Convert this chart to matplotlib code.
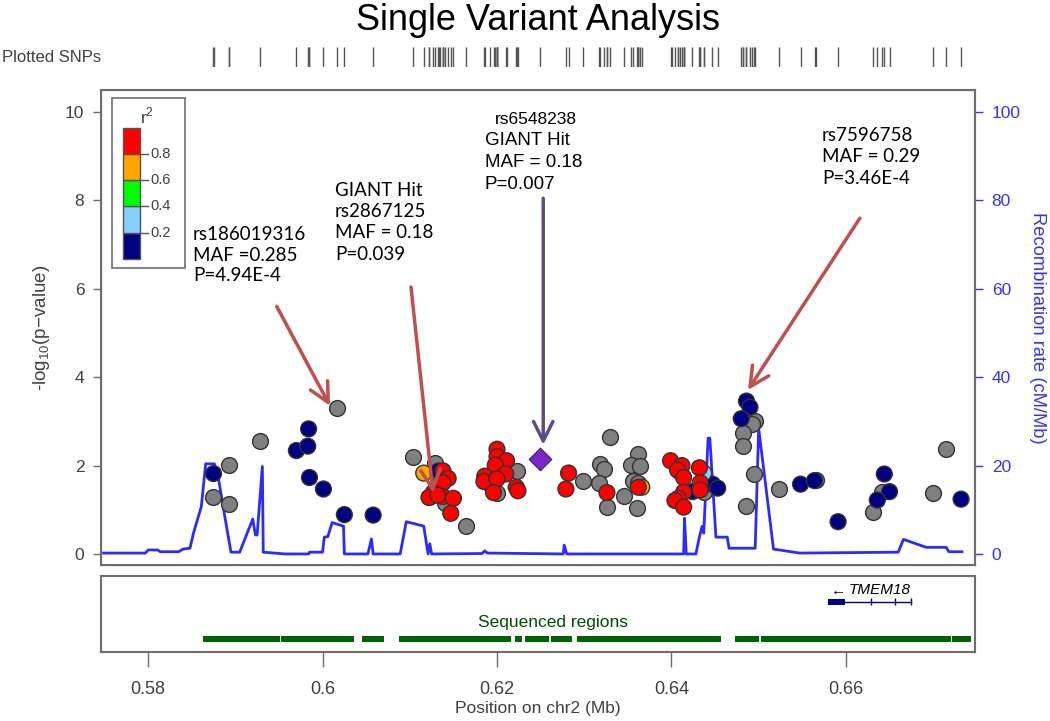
import numpy as np
import matplotlib
matplotlib.use("Agg")
from matplotlib import pyplot as plt
from matplotlib.patches import Rectangle

plt.rcParams['font.family'] = ['Liberation Sans', 'DejaVu Sans']
plt.rcParams['mathtext.fontset'] = 'custom'
plt.rcParams['mathtext.rm'] = 'Liberation Sans'

# Data: SNP position (Mb), -log10(p), r2 with lead SNP
gray_pos = [0.5874, 0.5893, 0.5893, 0.5928, 0.6017, 0.6104, 0.6129, 0.6122, 0.6140, 0.6164,
            0.6223, 0.6200, 0.6299, 0.6329, 0.6318, 0.6323, 0.6317, 0.6326, 0.6346, 0.6362,
            0.6354, 0.6364, 0.6356, 0.6362, 0.6361, 0.6410, 0.6437, 0.6496, 0.6492, 0.6482,
            0.6482, 0.6495, 0.6486, 0.6523, 0.6566, 0.6641, 0.6631, 0.6715, 0.6700]
gray_logp = [1.29, 2.02, 1.14, 2.55, 3.30, 2.19, 2.05, 1.30, 1.15, 0.63,
             1.88, 1.39, 1.64, 2.65, 2.04, 1.92, 1.61, 1.07, 1.31, 2.26,
             2.01, 1.98, 1.66, 1.60, 1.05, 1.85, 1.40, 3.02, 2.94, 2.74,
             2.45, 1.81, 1.09, 1.46, 1.68, 1.41, 0.94, 2.37, 1.37]

ld_pos = [0.5875, 0.5984, 0.5970, 0.5983, 0.5985, 0.6001, 0.6025, 0.6058, 0.6133, 0.6424,
          0.6447, 0.6453, 0.6486, 0.6490, 0.6480, 0.6548, 0.6564, 0.6591, 0.6644, 0.6650,
          0.6636, 0.6732,
          0.6437,
          0.6116, 0.6192, 0.6135, 0.6366,
          0.6138, 0.6144, 0.6138, 0.6127, 0.6122, 0.6138, 0.6150, 0.6147, 0.6132,
          0.6200, 0.6200, 0.6211, 0.6198, 0.6210, 0.6186, 0.6185, 0.6200, 0.6196, 0.6222, 0.6224,
          0.6282, 0.6279, 0.6326, 0.6362,
          0.6399, 0.6412, 0.6407, 0.6414, 0.6432, 0.6433, 0.6433, 0.6414, 0.6408, 0.6404,
          0.6414, 0.6401]
ld_logp = [1.82, 2.83, 2.34, 2.44, 1.73, 1.47, 0.89, 0.88, 1.88, 1.41,
           1.58, 1.49, 3.46, 3.32, 3.06, 1.58, 1.66, 0.73, 1.81, 1.41,
           1.22, 1.24,
           1.83,
           1.83, 1.58, 1.60, 1.51,
           1.88, 1.71, 1.61, 1.39, 1.28, 1.30, 1.26, 0.92, 1.33,
           2.37, 2.20, 2.11, 2.01, 1.81, 1.76, 1.64, 1.70, 1.39, 1.51, 1.43,
           1.83, 1.47, 1.39, 1.51,
           2.11, 2.00, 1.90, 1.73, 1.95, 1.61, 1.45, 1.40, 1.26, 1.21,
           1.06, 0.90]
ld_r2 = [0.1] * 22 + [0.3] + [0.7] * 4 + [0.9] * 35

lead_pos, lead_logp = 0.6249, 2.14

# recombination rate (cM/Mb)
recomb_pos = [0.5749, 0.5797, 0.5800, 0.5811, 0.5814, 0.5835, 0.5840, 0.5848, 0.5852, 0.5861,
              0.5866, 0.5876, 0.5881, 0.5888, 0.5895, 0.5905, 0.5920, 0.5923, 0.5925, 0.5931,
              0.5932, 0.5957, 0.5984, 0.5985, 0.6000, 0.6002, 0.6006, 0.6011, 0.6024, 0.6025,
              0.6052, 0.6056, 0.6058, 0.6089, 0.6096, 0.6116, 0.6121, 0.6123, 0.6125, 0.6183,
              0.6186, 0.6189, 0.6276, 0.6277, 0.6280, 0.6414, 0.6415, 0.6417, 0.6428, 0.6432,
              0.6435, 0.6437, 0.6442, 0.6444, 0.6451, 0.6464, 0.6466, 0.6496, 0.6500, 0.6517,
              0.6547, 0.6660, 0.6666, 0.6692, 0.6715, 0.6718, 0.6733]
recomb_rate = [0.2, 0.2, 0.9, 0.9, 0.5, 0.5, 1.1, 1.3, 4.7, 10.7,
               20.4, 20.4, 16.7, 8.4, 0.4, 0.4, 7.9, 4.3, 4.3, 19.8,
               0.4, 0.0, 0.0, 0.4, 0.4, 3.8, 3.9, 7.1, 6.3, 0.0,
               0.0, 3.4, 0.0, 0.0, 7.3, 6.3, 0.0, 2.3, 0.0, 0.1,
               0.7, 0.2, 0.0, 2.0, 0.0, 0.0, 8.1, 0.0, 0.0, 3.8,
               6.2, 4.7, 26.2, 26.2, 3.8, 3.8, 1.3, 1.3, 28.4, 1.1,
               0.2, 0.4, 3.3, 1.5, 1.5, 0.5, 0.5]

# sequenced regions (start, end) in Mb
seq_start = [0.58630, 0.59523, 0.60448, 0.60879, 0.62202, 0.62325, 0.62620, 0.62922, 0.64734, 0.65030, 0.67214]
seq_end = [0.59510, 0.60365, 0.60705, 0.62157, 0.62292, 0.62594, 0.62864, 0.64573, 0.64998, 0.67201, 0.67430]

# TMEM18 gene model
gene_start, gene_end = 0.65794, 0.66752
gene_utr_end = 0.65987
gene_exons = [0.66289, 0.66565, 0.66752]

r2_breaks = [0.0, 0.2, 0.4, 0.6, 0.8, 1.0]
r2_colors = ['#000080', '#87CEFA', '#00FF00', '#FFA500', '#FF0000']

x_ticks = [0.58, 0.60, 0.62, 0.64, 0.66]
x_tick_labels = ['0.58', '0.6', '0.62', '0.64', '0.66']

W, H = 1050, 721
fig = plt.figure(figsize=(10.5, 7.21), dpi=100)
xlim = (0.5746, 0.6748)
frame_col = '#6e6e6e'
text_col = '#404040'

ax = fig.add_axes([101 / W, 1 - 565 / H, 874 / W, 475 / H])
ax.set_xlim(xlim)
ax.set_ylim(-0.25, 10.5)
ax.set_yticks([0, 2, 4, 6, 8, 10])
ax.set_xticks([])
ax.tick_params(axis='y', direction='out', length=6, width=1, colors=frame_col,
               labelcolor=text_col, labelsize=12.5, pad=6)
for s in ax.spines.values():
    s.set_color(frame_col)
    s.set_linewidth(1.5)
ax.set_ylabel('-log$_{10}$(p\u2212value)', fontsize=13.5, color=text_col, labelpad=9)

# recombination rate
ax2 = ax.twinx()
ax2.set_ylim(-2.5, 105)
ax2.set_yticks([0, 20, 40, 60, 80, 100])
ax2.tick_params(axis='y', direction='out', length=6, width=1, colors='#3333ff',
                labelsize=12.5, pad=6)
ax2.spines['right'].set_color(frame_col)
ax2.spines['right'].set_linewidth(1.5)
ax2.set_ylabel('Recombination rate (cM/Mb)', fontsize=13.2, color='#3333ff',
               rotation=270, labelpad=18)
ax2.plot(recomb_pos, recomb_rate, color='#2b2bff', lw=2, zorder=1)
ax.set_zorder(ax2.get_zorder() + 1)
ax.patch.set_visible(False)

# points
ax.scatter(gray_pos, gray_logp, s=130, c='#808080', edgecolors='#333333', linewidths=1, zorder=3)
ld_r2 = np.array(ld_r2)
order = np.argsort(ld_r2, kind='stable')
ld_cols = [r2_colors[min(int(np.digitize(r, r2_breaks)) - 1, 4)] for r in ld_r2]
ax.scatter(np.array(ld_pos)[order], np.array(ld_logp)[order], s=130,
           c=[ld_cols[i] for i in order], edgecolors='#333333', linewidths=1, zorder=4)
ax.scatter([lead_pos], [lead_logp], s=130, marker='D', c='#7d26cd', edgecolors='#4a2a7a',
           linewidths=1, zorder=5)

# r2 legend
ax.add_patch(Rectangle((0.0126, 0.6253), 0.0835, 0.3579, transform=ax.transAxes,
                       facecolor='white', edgecolor=frame_col, lw=1.2, zorder=6))
bar_x, bar_w, bar_y, bar_h = 0.0248, 0.0198, 0.6442, 0.2764
for i, col in enumerate(r2_colors):
    ax.add_patch(Rectangle((bar_x, bar_y + bar_h * r2_breaks[i]), bar_w, bar_h * 0.2,
                           transform=ax.transAxes, facecolor=col, edgecolor='#555555',
                           lw=1, zorder=7))
for b in r2_breaks[1:-1]:
    yy = bar_y + bar_h * b
    ax.plot([bar_x + bar_w, bar_x + bar_w + 0.009], [yy, yy], transform=ax.transAxes,
            color='#555555', lw=1, zorder=7)
    ax.text(bar_x + bar_w + 0.012, yy, '%.1f' % b, transform=ax.transAxes, fontsize=10.5,
            color=text_col, va='center', ha='left', zorder=7)
ax.text(0.0523, 0.944, 'r$^2$', transform=ax.transAxes, fontsize=12.5, color=text_col,
        ha='center', va='center', zorder=7)

# annotations
lato = ['Lato', 'DejaVu Sans']
ax.text(0.58516, 7.42, 'rs186019316\nMAF =0.285\nP=4.94E-4', family=lato, fontsize=13.5,
        va='top', ha='left', linespacing=1.25, zorder=8)
ax.text(0.60143, 8.42, 'GIANT Hit\nrs2867125\nMAF = 0.18\nP=0.039', family=lato,
        fontsize=13.5, va='top', ha='left', linespacing=1.3, zorder=8)
ax.text(0.61977, 10.0, 'rs6548238', fontsize=12.5, va='top', ha='left', zorder=8)
ax.text(0.61862, 9.56, 'GIANT Hit\nMAF = 0.18\nP=0.007', fontsize=13.5, va='top',
        ha='left', linespacing=1.4, zorder=8)
ax.text(0.65725, 9.66, 'rs7596758\nMAF = 0.29\nP=3.46E-4', family=lato, fontsize=13.5,
        va='top', ha='left', linespacing=1.3, zorder=8)

arrows = [((0.59475, 5.60), (0.60086, 3.35), '#c0504d'),
          ((0.61014, 6.04), (0.61267, 1.38), '#c0504d'),
          ((0.6253, 8.05), (0.6253, 2.47), '#5f4a8b'),
          ((0.66160, 7.60), (0.64877, 3.71), '#c0504d')]
for start, end, col in arrows:
    ax.annotate('', xy=end, xytext=start,
                arrowprops=dict(arrowstyle='->,head_length=0.7,head_width=0.35',
                                color=col, lw=2.5, mutation_scale=20,
                                shrinkA=0, shrinkB=0), zorder=8)

# plotted SNPs strip
strip = fig.add_axes([101 / W, 1 - 67 / H, 874 / W, 20 / H])
strip.set_xlim(xlim)
strip.set_ylim(0, 1)
strip.vlines(gray_pos + ld_pos + [lead_pos], 0, 1, color='#555555', lw=1)
strip.axis('off')
fig.text(2 / W, 1 - 58 / H, 'Plotted SNPs', fontsize=12, color=text_col, ha='left', va='center')

fig.text(538 / W, 1 - 20 / H, 'Single Variant Analysis', fontsize=26, ha='center', va='center')

# gene / sequenced regions panel
gax = fig.add_axes([101 / W, 1 - 652 / H, 874 / W, 76 / H])
gax.set_xlim(xlim)
gax.set_ylim(0, 1)
gax.set_yticks([])
gax.set_xticks(x_ticks)
gax.set_xticklabels(x_tick_labels)
gax.tick_params(axis='x', direction='out', length=11, width=1, colors=frame_col,
                labelcolor=text_col, labelsize=13, pad=10)
for s in gax.spines.values():
    s.set_color(frame_col)
    s.set_linewidth(1.5)
for a, b in zip(seq_start, seq_end):
    gax.add_patch(Rectangle((a, 0.128), b - a, 0.08, facecolor='#006400', edgecolor='none'))
gax.text(0.62639, 0.39, 'Sequenced regions', fontsize=12.5, color='#004d00',
         ha='center', va='center')
gax.plot([gene_start, gene_end], [0.662, 0.662], color='#000080', lw=1)
gax.add_patch(Rectangle((gene_start, 0.622), gene_utr_end - gene_start, 0.08,
                        facecolor='#000080', edgecolor='none'))
gax.vlines(gene_exons, 0.612, 0.712, color='#000080', lw=1)
gax.text(0.6600, 0.81, '\u2190', fontsize=11, ha='right', va='center')
gax.text(0.6603, 0.81, 'TMEM18', fontsize=11, style='italic', ha='left', va='center')
fig.text(538 / W, 1 - 709 / H, 'Position on chr2 (Mb)', fontsize=12.5, color=text_col,
         ha='center', va='center')

fig.savefig('out.png', dpi=100)
